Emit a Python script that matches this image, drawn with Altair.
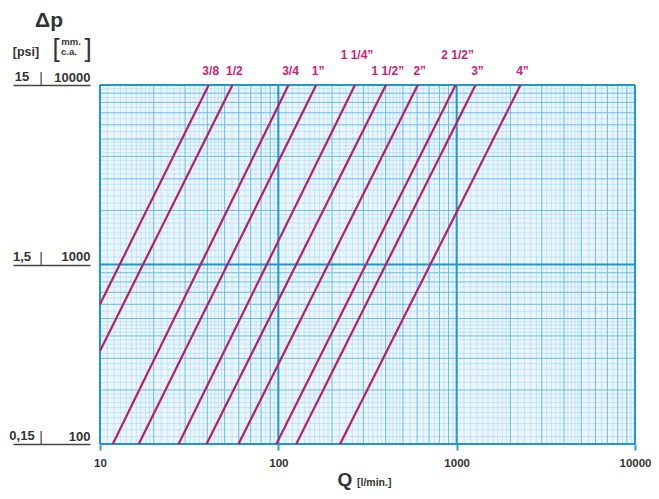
import altair as alt
import pandas as pd
import numpy as np

# ---- data ----
sizes = ["3/8", "1/2", "3/4", "1”", "1 1/4”", "1 1/2”", "2”", "2 1/2”", "3”", "4”"]
# flow (l/min) where each curve reaches the top edge, Δp = 10000 mm c.a.
q_top = [40.7, 55.3, 114, 163, 269, 401, 605, 986, 1276, 2280]
dp_top = [10000] * 10
# lower end of each curve (left edge for 3/8 and 1/2, bottom edge otherwise)
q_low = [10, 10, 11.8, 16.5, 27.6, 39.6, 59.8, 97.5, 126, 222]
dp_low = [600, 330, 100, 100, 100, 100, 100, 100, 100, 100]
upper_row = ["1 1/4”", "2 1/2”"]

x_ticks = [10, 100, 1000, 10000]
y_ticks = [100, 1000, 10000]
psi_labels = ["0,15", "1,5", "15"]

FONT = "Liberation Sans"
LINE_C = "#b51f6e"
LABEL_C = "#cf1c78"
TXT_C = "#333333"

# page offsets of the plot origin (for placing annotations in page pixels)
LEFT = 100
TOP = 85

lines_df = pd.DataFrame({
    "size": sizes * 2,
    "q": q_low + q_top,
    "dp": dp_low + dp_top,
})
labels_df = pd.DataFrame({"size": sizes, "q": q_top})
labels_low = labels_df[~labels_df["size"].isin(upper_row)]
labels_up = labels_df[labels_df["size"].isin(upper_row)]
psi_df = pd.DataFrame({"dp": y_ticks, "psi": psi_labels})

# ---- log-paper grid positions ----
def grid_levels(lo, hi):
    major, medium, fine = [], [], []
    d = lo
    while d <= hi:
        major.append(d)
        if d < hi:
            medium += [d * k for k in range(2, 10)]
            fine += [d * v for v in np.arange(1.1, 2.0, 0.1)]
            fine += [d * v for v in np.arange(2.2, 5.0, 0.2) if abs(v - round(v)) > 1e-6]
            fine += [d * v for v in np.arange(5.5, 10.0, 0.5) if abs(v - round(v)) > 1e-6]
        d *= 10
    return major, medium, fine

gx_major, gx_med, gx_fine = grid_levels(10, 10000)
gy_major, gy_med, gy_fine = grid_levels(100, 10000)

x_scale = alt.Scale(type="log", domain=[10, 10000], nice=False)
y_scale = alt.Scale(type="log", domain=[100, 10000], nice=False)

x_axis = alt.Axis(values=x_ticks, format="d", grid=False, domain=False, tickSize=6,
                  tickColor="#2a9fd8", tickWidth=2, labelFont=FONT, labelFontWeight="bold",
                  labelFontSize=11.5, labelColor=TXT_C, labelPadding=7, title=None,
                  labelFlush=False, labelOverlap=False)
y_axis = alt.Axis(values=y_ticks, format="d", grid=False, domain=False, offset=10,
                  tickSize=77, tickColor="#444444", tickWidth=1.5, labelAlign="right",
                  labelBaseline="bottom", labelPadding=-77, labelOffset=-1, labelFont=FONT,
                  labelFontWeight="bold", labelFontSize=13, labelColor=TXT_C, title=None,
                  labelFlush=False, labelOverlap=False)

def X(field="q"):
    return alt.X(f"{field}:Q", scale=x_scale, axis=x_axis)

def Y(field="dp"):
    return alt.Y(f"{field}:Q", scale=y_scale, axis=y_axis)

def vrules(vals, color, w):
    return alt.Chart(pd.DataFrame({"q": vals})).mark_rule(color=color, strokeWidth=w).encode(x=X())

def hrules(vals, color, w):
    return alt.Chart(pd.DataFrame({"dp": vals})).mark_rule(color=color, strokeWidth=w).encode(y=Y())

grid = [
    vrules(gx_fine, "#a9daf3", 0.6), hrules(gy_fine, "#a9daf3", 0.6),
    vrules(gx_med, "#5cb9e7", 0.9), hrules(gy_med, "#5cb9e7", 0.9),
    vrules(gx_major, "#1d97d5", 2), hrules(gy_major, "#1d97d5", 2),
]

curves = alt.Chart(lines_df).mark_line(color=LINE_C, strokeWidth=2.2).encode(
    x=X(), y=Y(), detail="size:N")

lab_low = alt.Chart(labels_low).mark_text(font=FONT, fontWeight="bold", fontSize=12,
                                          color=LABEL_C, baseline="middle", dx=2).encode(
    x=X(), y=alt.value(71 - TOP), text="size:N")
lab_up = alt.Chart(labels_up).mark_text(font=FONT, fontWeight="bold", fontSize=12,
                                        color=LABEL_C, baseline="middle", dx=2).encode(
    x=X(), y=alt.value(55 - TOP), text="size:N")

psi = alt.Chart(psi_df).mark_text(font=FONT, fontWeight="bold", fontSize=13, color=TXT_C,
                                  baseline="bottom", dy=-1).encode(
    x=alt.value(22 - LEFT), y=Y(), text="psi:N")
sep = alt.Chart(psi_df).mark_text(font=FONT, fontSize=14, color="#444444",
                                  baseline="bottom", dy=1).encode(
    x=alt.value(41 - LEFT), y=Y(), text=alt.value("|"))

def note(txt, x, y, size, weight="bold", align="center", baseline="middle"):
    return alt.Chart(pd.DataFrame({"t": [txt]})).mark_text(
        font=FONT, fontWeight=weight, fontSize=size, color=TXT_C, align=align,
        baseline=baseline).encode(x=alt.value(x - LEFT), y=alt.value(y - TOP), text="t:N")

notes = [
    note("Δp", 49, 27, 21, baseline="alphabetic"),
    note("[psi]", 26, 52, 12.5),
    note("[", 56, 49, 26, weight="normal"),
    note("]", 88, 49, 26, weight="normal"),
    note("mm.", 71, 45, 9.5, baseline="alphabetic"),
    note("c.a.", 69, 55, 9.5, baseline="alphabetic"),
    note("Q", 345, 486, 19, baseline="alphabetic"),
    note("[l/min.]", 357, 486, 10.5, align="left", baseline="alphabetic"),
]

chart = alt.layer(*grid, curves, lab_low, lab_up, psi, sep, *notes).properties(
    width=535, height=359,
    autosize=alt.AutoSizeParams(type="none"),
    padding={"left": LEFT - 8, "top": TOP - 8, "right": 16, "bottom": 47},
    background="white",
).configure_view(fill="#eaf5fc", stroke=None)

chart.save("out.html", embed_options={"renderer": "svg", "actions": False})
